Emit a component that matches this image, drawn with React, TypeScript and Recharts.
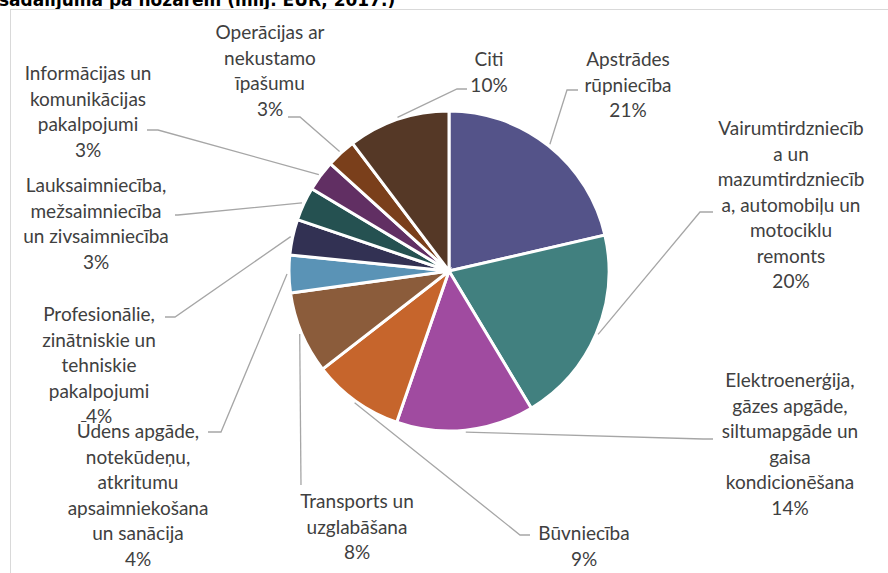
import React from 'react';
import { PieChart, Pie, Cell } from 'recharts';

// nozares, pulksteņrādītāja virzienā no augšas
const categories = [
  'Apstrādes rūpniecība',
  'Vairumtirdzniecība un mazumtirdzniecība, automobiļu un motociklu remonts',
  'Elektroenerģija, gāzes apgāde, siltumapgāde un gaisa kondicionēšana',
  'Būvniecība',
  'Transports un uzglabāšana',
  'Ūdens apgāde, notekūdeņu, atkritumu apsaimniekošana un sanācija',
  'Profesionālie, zinātniskie un tehniskie pakalpojumi',
  'Lauksaimniecība, mežsaimniecība un zivsaimniecība',
  'Informācijas un komunikācijas pakalpojumi',
  'Operācijas ar nekustamo īpašumu',
  'Citi',
];

// daļa (%)
const shares = [21.4, 20.0, 13.9, 9.2, 8.3, 3.8, 3.6, 3.4, 3.1, 3.0, 10.3];

// etiķešu teksts tā, kā tas ir aplauzts attēlā
const labelLines = [
  ['Apstrādes', 'rūpniecība'],
  ['Vairumtirdzniecīb', 'a un', 'mazumtirdzniecīb', 'a, automobiļu un', 'motociklu', 'remonts'],
  ['Elektroenerģija,', 'gāzes apgāde,', 'siltumapgāde un', 'gaisa', 'kondicionēšana'],
  ['Būvniecība'],
  ['Transports un', 'uzglabāšana'],
  ['Ūdens apgāde,', 'notekūdeņu,', 'atkritumu', 'apsaimniekošana', 'un sanācija'],
  ['Profesionālie,', 'zinātniskie un', 'tehniskie', 'pakalpojumi'],
  ['Lauksaimniecība,', 'mežsaimniecība', 'un zivsaimniecība'],
  ['Informācijas un', 'komunikācijas', 'pakalpojumi'],
  ['Operācijas ar', 'nekustamo', 'īpašumu'],
  ['Citi'],
];

const colors = [
  '#545389', '#41807f', '#a04ba0', '#c6652c', '#8b5c3b', '#5a93b6',
  '#323153', '#255151', '#612f63', '#7a3f1b', '#553826',
];

// etiķešu novietojums attiecībā pret centru (kā Excel manuāli pārvietotām etiķetēm)
const labelLayout = [
  { x: 179, y: -205, elbow: [118, -181], end: [129, -181] },
  { x: 342, y: -136, elbow: [251, -59], end: [264, -59] },
  { x: 341, y: 116, elbow: [254, 168], end: [264, 168] },
  { x: 135, y: 269, elbow: [71, 264], end: [81, 264] },
  { x: -92, y: 237, elbow: [-148, 214], end: [-148, 214] },
  { x: -311, y: 167, elbow: [-228, 161], end: [-241, 161] },
  { x: -350, y: 50, elbow: [-274, 46], end: [-284, 46] },
  { x: -353, y: -79, elbow: [-271, -56], end: [-274, -56] },
  { x: -361, y: -191, elbow: [-291, -141], end: [-302, -141] },
  { x: -179, y: -232, elbow: [-149, -154], end: [-161, -154] },
  { x: 40, y: -205, elbow: [8, -182], end: [18, -182] },
];

const data = categories.map((name, i) => ({ name, value: shares[i] }));

const RAD = Math.PI / 180;
const FONT = 'Lato, "Open Sans", sans-serif';
const LINE_H = 25.5;

const renderLabel = (props: any) => {
  const { cx, cy, midAngle, outerRadius, percent, index } = props;
  const lay = labelLayout[index];
  const sx = cx + (outerRadius + 2) * Math.cos(-midAngle * RAD);
  const sy = cy + (outerRadius + 2) * Math.sin(-midAngle * RAD);
  const lines = [...labelLines[index], `${Math.round(percent * 100)}%`];
  return (
    <g key={`lbl-${index}`}>
      <polyline
        points={`${sx},${sy} ${cx + lay.elbow[0]},${cy + lay.elbow[1]} ${cx + lay.end[0]},${cy + lay.end[1]}`}
        fill="none"
        stroke="#a6a6a6"
        strokeWidth={1.3}
      />
      <text
        x={cx + lay.x}
        y={cy + lay.y}
        textAnchor="middle"
        fill="#404040"
        fontFamily={FONT}
        fontSize={19}
      >
        {lines.map((l, j) => (
          <tspan key={j} x={cx + lay.x} y={cy + lay.y + j * LINE_H}>
            {l}
          </tspan>
        ))}
      </text>
    </g>
  );
};

export default function App() {
  return (
    <div
      style={{
        position: 'absolute',
        left: 0,
        top: 0,
        width: 888,
        height: 573,
        overflow: 'hidden',
        background: '#fff',
      }}
    >
      <div
        style={{
          position: 'absolute',
          left: -1,
          top: -10,
          fontFamily: '"DejaVu Sans", sans-serif',
          fontWeight: 'bold',
          fontSize: 17,
          lineHeight: '20px',
          color: '#000',
          whiteSpace: 'nowrap',
        }}
      >
        sadalījuma pa nozarēm (milj. EUR, 2017.)
      </div>
      <div
        style={{
          position: 'absolute',
          left: 10,
          top: 9,
          width: 900,
          height: 600,
          border: '1px solid #d9d9d9',
        }}
      />
      <div style={{ position: 'absolute', left: 0, top: 0 }}>
        <PieChart width={888} height={573} margin={{ top: 0, right: 0, bottom: 0, left: 0 }}>
          <Pie
            data={data}
            dataKey="value"
            nameKey="name"
            cx={449}
            cy={271}
            outerRadius={160}
            startAngle={90}
            endAngle={-270}
            stroke="#ffffff"
            strokeWidth={3}
            label={renderLabel}
            labelLine={false}
            isAnimationActive={false}
          >
            {data.map((d, i) => (
              <Cell key={d.name} fill={colors[i]} />
            ))}
          </Pie>
        </PieChart>
      </div>
    </div>
  );
}
